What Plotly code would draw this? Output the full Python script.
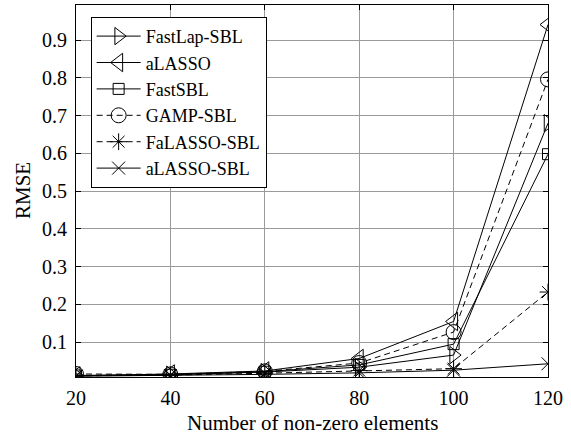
import plotly.graph_objects as go

x_vals = [20, 40, 60, 80, 100, 120]

fastlap_sbl = [0.012, 0.014, 0.021, 0.034, 0.066, 0.680]
alasso = [0.011, 0.016, 0.024, 0.057, 0.155, 0.941]
fast_sbl = [0.012, 0.014, 0.022, 0.040, 0.095, 0.598]
gamp_sbl = [0.016, 0.015, 0.023, 0.045, 0.127, 0.796]
falasso_sbl = [0.011, 0.013, 0.018, 0.025, 0.030, 0.233]
alasso_sbl = [0.010, 0.012, 0.015, 0.019, 0.026, 0.043]

series_names = ["FastLap-SBL", "aLASSO", "FastSBL", "GAMP-SBL", "FaLASSO-SBL", "aLASSO-SBL"]
series_vals = [fastlap_sbl, alasso, fast_sbl, gamp_sbl, falasso_sbl, alasso_sbl]
symbols = ["triangle-right-open", "triangle-left-open", "square-open", "circle-open",
           "asterisk-open", "x-thin-open"]
sizes = [15, 16, 11, 15, 14, 13]
dashes = ["solid", "solid", "solid", "6px,4px", "6px,4px", "solid"]

x_ticks = [20, 40, 60, 80, 100, 120]
y_ticks = [0.1, 0.2, 0.3, 0.4, 0.5, 0.6, 0.7, 0.8, 0.9]
x_title = "Number of non-zero elements"
y_title = "RMSE"

FONT = "Liberation Serif"

fig = go.Figure()
for name, vals, sym, sz, dsh in zip(series_names, series_vals, symbols, sizes, dashes):
    fig.add_trace(go.Scatter(
        x=x_vals, y=vals, name=name, mode="lines+markers",
        line=dict(color="black", width=1, dash=dsh),
        marker=dict(symbol=sym, size=sz, color="black", line=dict(color="black", width=1)),
    ))

axis_common = dict(
    showline=True, linecolor="black", linewidth=1, mirror="ticks",
    ticks="inside", ticklen=5, tickcolor="black",
    showgrid=True, gridcolor="#9a9a9a", gridwidth=1,
    zeroline=False, automargin=False,
    tickfont=dict(family=FONT, size=20, color="black"),
)

fig.update_layout(
    width=571, height=434,
    margin=dict(l=76, r=23, t=5, b=57),
    paper_bgcolor="white", plot_bgcolor="white",
    font=dict(family=FONT, color="black"),
    xaxis=dict(range=[20, 120], tickvals=x_ticks, ticktext=[str(t) for t in x_ticks],
               ticklabelstandoff=3, **axis_common),
    yaxis=dict(range=[0.008, 0.993], tickvals=y_ticks, ticktext=[f"{t:.1f}" for t in y_ticks],
               ticklabelstandoff=4, **axis_common),
    legend=dict(x=0.031, y=0.968, xanchor="left", yanchor="top",
                bgcolor="white", bordercolor="black", borderwidth=1,
                font=dict(family=FONT, size=18, color="black"),
                tracegroupgap=0, itemwidth=44),
    showlegend=True,
    annotations=[
        dict(text=x_title, xref="paper", yref="paper", x=0.5, y=0,
             xanchor="center", yanchor="middle", yshift=-46, showarrow=False,
             font=dict(family=FONT, size=21, color="black")),
        dict(text=y_title, xref="paper", yref="paper", x=0, y=0.5,
             xanchor="center", yanchor="middle", xshift=-53, textangle=-90, showarrow=False,
             font=dict(family=FONT, size=21, color="black")),
    ],
)

fig.write_html("out.html", config={"displayModeBar": False},
               post_script="document.body.style.margin='0';")
